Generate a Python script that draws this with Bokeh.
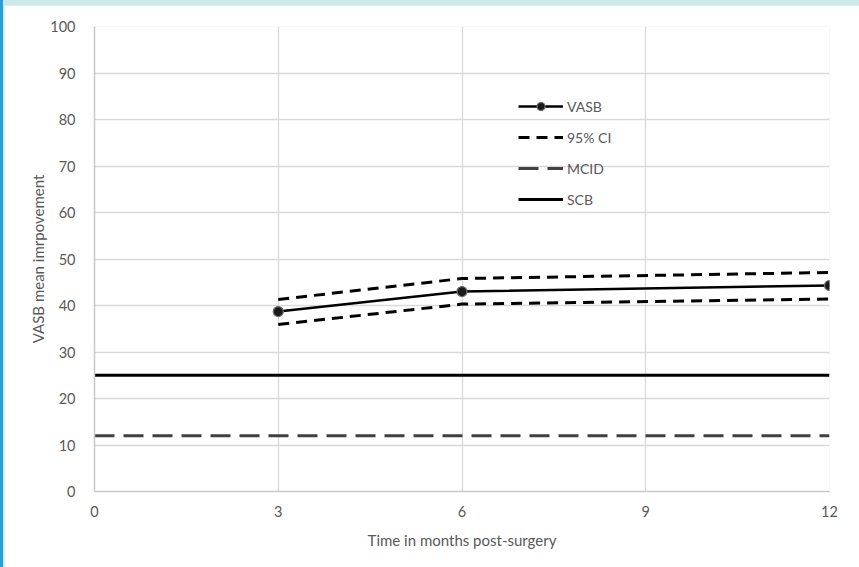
from bokeh.plotting import figure
from bokeh.models import Legend, LegendItem, FixedTicker
from bokeh.layouts import column
from bokeh.embed import file_html
from bokeh.resources import INLINE

# Months after surgery and VASB mean improvement with its 95% confidence band
months = [3, 6, 12]
vasb_mean = [38.7, 43.0, 44.3]
ci_upper = [41.3, 45.8, 47.1]
ci_lower = [35.9, 40.3, 41.4]

# Reference thresholds drawn across the full time span
ref_months = [0, 12]
scb_value = [25, 25]
mcid_value = [12, 12]

x_ticks = [0, 3, 6, 9, 12]
y_ticks = [0, 10, 20, 30, 40, 50, 60, 70, 80, 90, 100]

FONT = "Lato"
TEXT_GREY = "#595959"
GRID_GREY = "#d9d9d9"

p = figure(
    width=855, height=562,
    x_range=(0, 12), y_range=(0, 100),
    output_backend="svg", toolbar_location=None,
    min_border_left=90, min_border_right=30,
    min_border_top=21, min_border_bottom=76,
    background_fill_color="white", border_fill_color="white",
)
p.outline_line_color = None

# axes
p.xaxis.ticker = FixedTicker(ticks=x_ticks)
p.yaxis.ticker = FixedTicker(ticks=y_ticks)
for ax in (p.xaxis[0], p.yaxis[0]):
    ax.major_tick_line_color = None
    ax.minor_tick_line_color = None
    ax.major_label_text_font = FONT
    ax.major_label_text_font_size = "14.5px"
    ax.major_label_text_color = TEXT_GREY
    ax.axis_label_text_font = FONT
    ax.axis_label_text_font_size = "15px"
    ax.axis_label_text_font_style = "normal"
    ax.axis_label_text_color = TEXT_GREY
    ax.axis_line_color = "#c8c8c8"
    ax.axis_line_width = 1.5
p.xaxis.major_label_standoff = 8
p.yaxis.major_label_standoff = 13
p.xaxis.axis_label = "Time in months post-surgery"
p.yaxis.axis_label = "VASB mean imrpovement"
p.xaxis.axis_label_standoff = 11
p.yaxis.axis_label_standoff = 0

p.xgrid.grid_line_color = GRID_GREY
p.ygrid.grid_line_color = GRID_GREY
p.xgrid.grid_line_width = 1.3
p.ygrid.grid_line_width = 1.3

# series
vasb_line = p.line(months, vasb_mean, line_color="black", line_width=2.5)
vasb_pts = p.scatter(months, vasb_mean, size=10, fill_color="#1a1a1a",
                     line_color="#6e6e6e", line_width=1.2)
ci_hi = p.line(months, ci_upper, line_color="black", line_width=3, line_dash="11 7")
ci_lo = p.line(months, ci_lower, line_color="black", line_width=3, line_dash="11 7")
mcid = p.line(ref_months, mcid_value, line_color="#404040", line_width=3, line_dash="20 9")
scb = p.line(ref_months, scb_value, line_color="black", line_width=3)

legend = Legend(
    items=[
        LegendItem(label="VASB", renderers=[vasb_line, vasb_pts]),
        LegendItem(label="95% CI", renderers=[ci_hi]),
        LegendItem(label="MCID", renderers=[mcid]),
        LegendItem(label="SCB", renderers=[scb]),
    ],
    location=(424, 282),
    orientation="vertical",
    glyph_width=45, glyph_height=20, label_height=20,
    spacing=11, padding=0, margin=0, label_standoff=4,
    border_line_color=None, background_fill_alpha=0,
    label_text_font=FONT, label_text_font_size="14px",
    label_text_color=TEXT_GREY,
)
p.add_layout(legend)

page = column(
    p, width=859, height=567,
    styles={
        "background": "linear-gradient(to right, #2a9fd6 0px, #2a9fd6 3px, #cde9e7 3px)",
        "padding": "5px 0 0 4px",
        "box-sizing": "border-box",
    },
)

with open("out.html", "w") as f:
    f.write(file_html(page, INLINE))
